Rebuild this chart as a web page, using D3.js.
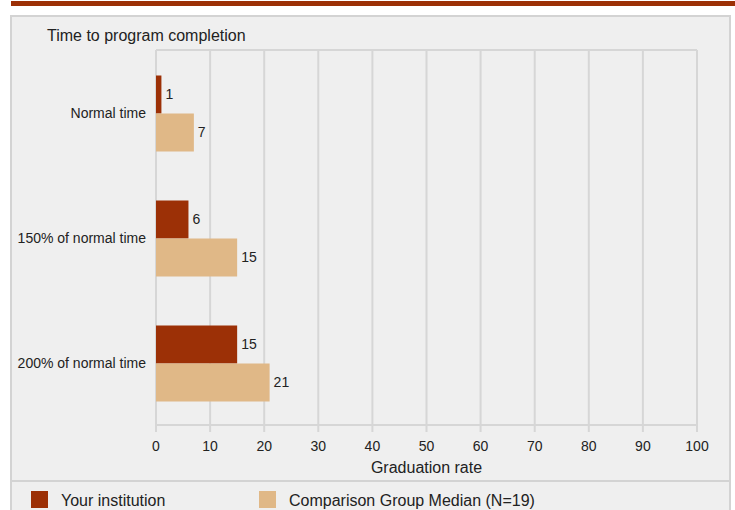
<!DOCTYPE html>
<html>
<head>
<meta charset="utf-8">
<style>
body { margin: 0; background: #fff; font-family: "Liberation Sans", Arial, sans-serif; }
.grid line { stroke: #d6d6d6; stroke-width: 2px; }
text { fill: #222; }
</style>
</head>
<body>
<svg id="chart" width="735" height="510"></svg>
<script src="https://d3js.org/d3.v7.min.js"></script>
<script>

var categories = ["Normal time", "150% of normal time", "200% of normal time"];
var series = ["Your institution", "Comparison Group Median (N=19)"];
var institution = [1, 6, 15];
var comparison = [7, 15, 21];
var ticks = [0, 10, 20, 30, 40, 50, 60, 70, 80, 90, 100];
var colors = ["#9c3006", "#e0b887"];

var svg = d3.select("#chart");

// top accent bar
svg.append("rect").attr("x", 11).attr("y", 1).attr("width", 724).attr("height", 5).attr("fill", "#9c3006");

// grey panel
svg.append("rect").attr("x", 11).attr("y", 16).attr("width", 719).attr("height", 500)
    .attr("fill", "#efefef").attr("stroke", "#d3d3d3").attr("stroke-width", 2);
svg.append("line").attr("x1", 10).attr("x2", 731).attr("y1", 481).attr("y2", 481)
    .attr("stroke", "#d3d3d3").attr("stroke-width", 2);

svg.append("text").attr("x", 47).attr("y", 41).style("font-size", "16px")
    .text("Time to program completion");

var margin = {top: 50, left: 156},
    width = 541, height = 375;

var x = d3.scaleLinear().domain([0, 100]).range([0, width]);
var y = d3.scaleBand().domain(categories).range([1, height + 1]).paddingInner(0.392).paddingOuter(0.196);
var y2 = d3.scaleBand().domain([0, 1]).range([0, y.bandwidth()]);

var g = svg.append("g").attr("transform", "translate(" + margin.left + "," + margin.top + ")");

// gridlines
var grid = g.append("g").attr("class", "grid");
grid.selectAll("line.v").data(ticks).enter().append("line")
    .attr("x1", d => x(d)).attr("x2", d => x(d))
    .attr("y1", 0).attr("y2", height + 7);
grid.append("line").attr("x1", 0).attr("x2", width).attr("y1", 0).attr("y2", 0);
grid.append("line").attr("x1", 0).attr("x2", width).attr("y1", height).attr("y2", height);

// x tick labels
g.selectAll("text.tick").data(ticks).enter().append("text")
    .attr("x", d => x(d)).attr("y", height + 26)
    .attr("text-anchor", "middle").style("font-size", "14px")
    .text(d => d);

g.append("text").attr("x", width / 2).attr("y", height + 48)
    .attr("text-anchor", "middle").style("font-size", "16px")
    .text("Graduation rate");

// category labels
g.selectAll("text.cat").data(categories).enter().append("text")
    .attr("x", -10).attr("y", d => y(d) + y.bandwidth() / 2)
    .attr("dy", "0.35em").attr("text-anchor", "end").style("font-size", "14px")
    .text(d => d);

// bars
var rows = categories.map(function(c, i) {
  return {cat: c, vals: [institution[i], comparison[i]]};
});

var grp = g.selectAll("g.grp").data(rows).enter().append("g")
    .attr("transform", d => "translate(0," + y(d.cat) + ")");

grp.selectAll("rect").data(d => d.vals).enter().append("rect")
    .attr("x", 0).attr("y", (d, i) => y2(i))
    .attr("width", d => x(d)).attr("height", y2.bandwidth())
    .attr("fill", (d, i) => colors[i]);

grp.selectAll("text").data(d => d.vals).enter().append("text")
    .attr("x", d => x(d) + 4).attr("y", (d, i) => y2(i) + y2.bandwidth() / 2)
    .attr("dy", "0.35em").style("font-size", "14px")
    .text(d => d);

// legend
var legX = [31, 259];
var leg = svg.selectAll("g.leg").data(series).enter().append("g")
    .attr("transform", (d, i) => "translate(" + legX[i] + ",491)");
leg.append("rect").attr("width", 17).attr("height", 17).attr("fill", (d, i) => colors[i]);
leg.append("text").attr("x", 30).attr("y", 15).style("font-size", "16px").text(d => d);

</script>
</body>
</html>
